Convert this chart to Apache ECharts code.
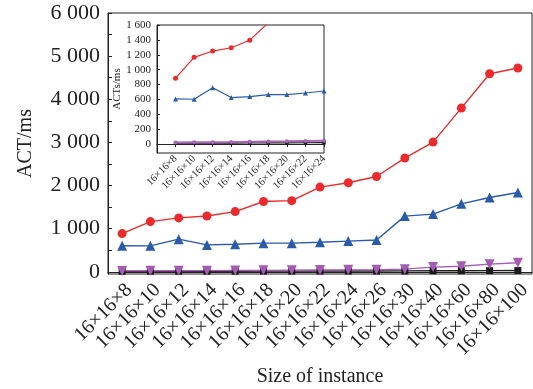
<!DOCTYPE html>
<html>
<head>
<meta charset="utf-8">
<script src="https://cdn.jsdelivr.net/npm/echarts@6/dist/echarts.min.js"></script>
<style>
  html, body { margin: 0; padding: 0; background: #fff; }
  #chart { width: 533px; height: 389px; }
</style>
</head>
<body>
<div id="chart"></div>
<script>
// Instance sizes (last dimension of 16×16×n)
const sizes = [8, 10, 12, 14, 16, 18, 20, 22, 24, 26, 30, 40, 60, 80, 100];
const categories = sizes.map(n => '16×16×' + n);

// ACT in ms for each method
const redValues    = [886, 1165, 1250, 1294, 1396, 1630, 1650, 1964, 2064, 2210, 2637, 3008, 3796, 4592, 4724];
const blueValues   = [606, 602, 758, 625, 638, 665, 665, 686, 713, 738, 1292, 1338, 1577, 1723, 1839];
const purpleValues = [22, 24, 26, 28, 32, 35, 38, 42, 46, 50, 62, 110, 130, 178, 210];
const blackValues  = [12, 13, 14, 14, 15, 16, 17, 18, 19, 20, 22, 24, 26, 28, 30];

// Tick labels
const mainTicks  = [0, 1000, 2000, 3000, 4000, 5000, 6000];
const mainMinor  = [0, 500, 1000, 1500, 2000, 2500, 3000, 3500, 4000, 4500, 5000, 5500, 6000];
const insetTicks = [0, 200, 400, 600, 800, 1000, 1200, 1400, 1600];
const insetCount = 9; // the zoomed view covers the first nine sizes

const FONT = 'Liberation Serif';
const RED = '#ea2a2c', BLUE = '#2a5aa8', PURPLE = '#a35bb3', BLACK = '#1b1b1b';

function fmt(v) {
  if (v >= 1000) return Math.floor(v / 1000) + ' ' + String(v % 1000).padStart(3, '0');
  return String(v);
}

const insetSizes = sizes.slice(0, insetCount);
const pairs = vals => insetSizes.map((s, i) => [s, vals[i]]);

const chart = echarts.init(document.getElementById('chart'), null, { renderer: 'canvas' });

const mainSeries = (name, data, color, symbol, size, rotate) => ({
  name, type: 'line', xAxisIndex: 0, yAxisIndex: 0, data,
  symbol, symbolSize: size, symbolRotate: rotate || 0,
  lineStyle: { color, width: 1.4 }, itemStyle: { color },
  animation: false, z: 3
});
const insetSeries = (name, data, color, symbol, size, rotate, width) => ({
  name: name + '-inset', type: 'line', xAxisIndex: 1, yAxisIndex: 1, data,
  symbol, symbolSize: size, symbolRotate: rotate || 0,
  lineStyle: { color, width: width || 1.2 }, itemStyle: { color },
  clip: true, animation: false, z: 10
});

chart.setOption({
  backgroundColor: '#fff',
  animation: false,
  grid: [
    { left: 108, top: 13, right: 1, height: 261, outerBoundsMode: 'none', containLabel: false,
      show: true, borderColor: '#222', borderWidth: 1, backgroundColor: 'transparent', z: 1 },
    { left: 157, top: 25, width: 167, height: 128, outerBoundsMode: 'none', containLabel: false,
      show: true, borderColor: '#222', borderWidth: 1, backgroundColor: '#fff', z: 8 }
  ],
  xAxis: [
    {
      type: 'category', gridIndex: 0, data: categories, boundaryGap: true,
      axisLine: { lineStyle: { color: '#222', width: 1 } },
      axisTick: { show: false },
      axisLabel: { rotate: 45, fontFamily: FONT, fontSize: 20, color: '#222', margin: 6, interval: 0, verticalAlign: 'top' },
      name: 'Size of instance', nameLocation: 'middle', nameGap: 92,
      nameTextStyle: { fontFamily: FONT, fontSize: 20, color: '#222' }
    },
    {
      type: 'value', gridIndex: 1, min: 6, max: 24,
      splitLine: { show: false },
      axisLine: { lineStyle: { color: '#222', width: 1 } },
      axisTick: { show: true, inside: false, length: 3, customValues: insetSizes, lineStyle: { color: '#222' } },
      axisLabel: {
        rotate: 45, fontFamily: FONT, fontSize: 10.5, color: '#222', margin: 4,
        customValues: insetSizes,
        formatter: v => '16×16×' + v
      },
      z: 9
    }
  ],
  yAxis: [
    {
      type: 'value', gridIndex: 0, min: -50, max: 6000,
      splitLine: { show: false },
      axisLine: { show: true, lineStyle: { color: '#222', width: 1 } },
      axisTick: { show: true, inside: true, length: 4, customValues: mainMinor, lineStyle: { color: '#222' } },
      axisLabel: { fontFamily: FONT, fontSize: 22, color: '#222', margin: 8, customValues: mainTicks, formatter: fmt },
      name: 'ACT/ms', nameLocation: 'middle', nameGap: 72,
      nameTextStyle: { fontFamily: FONT, fontSize: 20, color: '#222' }
    },
    {
      type: 'value', gridIndex: 1, min: -120, max: 1600,
      splitLine: { show: false },
      axisLine: { show: true, lineStyle: { color: '#222', width: 1 } },
      axisTick: { show: true, inside: true, length: 3, customValues: insetTicks, lineStyle: { color: '#222' } },
      axisLabel: { fontFamily: FONT, fontSize: 11, color: '#222', margin: 6, customValues: insetTicks, formatter: fmt },
      name: 'ACTs/ms', nameLocation: 'middle', nameGap: 32,
      nameTextStyle: { fontFamily: FONT, fontSize: 11, color: '#222' },
      z: 9
    }
  ],
  series: [
    mainSeries('red', redValues, RED, 'circle', 9),
    mainSeries('blue', blueValues, BLUE, 'triangle', 10),
    mainSeries('black', blackValues, BLACK, 'rect', 7),
    mainSeries('purple', purpleValues, PURPLE, 'triangle', 10, 180),
    insetSeries('red', pairs(redValues), RED, 'circle', 5),
    insetSeries('blue', pairs(blueValues), BLUE, 'triangle', 5),
    insetSeries('black', pairs(blackValues), BLACK, 'rect', 3.5),
    insetSeries('purple', pairs(purpleValues), '#a866b8', 'circle', 4, 0, 2)
  ]
});
</script>
</body>
</html>
